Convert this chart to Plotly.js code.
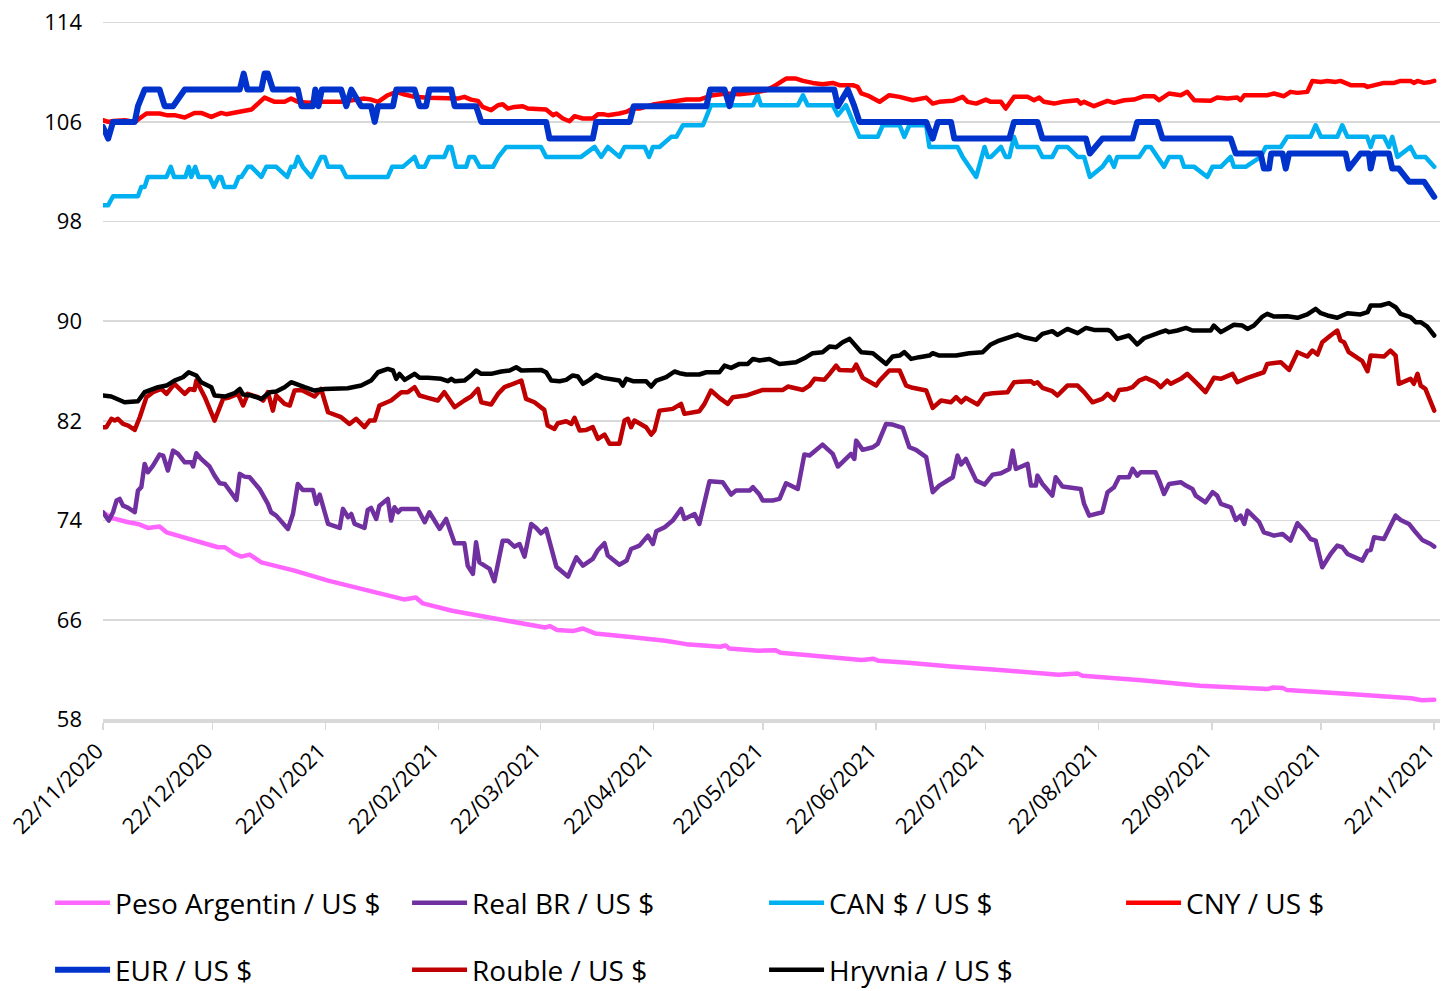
<!DOCTYPE html>
<html><head><meta charset="utf-8">
<script src="https://cdn.plot.ly/plotly-3.0.1.min.js"></script>
<style>
html,body{margin:0;padding:0;background:#fff;}
#chart{width:1443px;height:991px;}
.scatterlayer path.js-line{stroke-linejoin:round;stroke-linecap:round;}
</style></head><body><div id="chart"></div>
<script>
const tickDates = ['2020-11-22','2020-12-22','2021-01-22','2021-02-22','2021-03-22','2021-04-22','2021-05-22','2021-06-22','2021-07-22','2021-08-22','2021-09-22','2021-10-22','2021-11-22'];
const tickLabels = ['22/11/2020','22/12/2020','22/01/2021','22/02/2021','22/03/2021','22/04/2021','22/05/2021','22/06/2021','22/07/2021','22/08/2021','22/09/2021','22/10/2021','22/11/2021'];
const yTicks = [58,66,74,82,90,98,106,114];
const seriesNames = ['Peso Argentin / US $','Real BR / US $','CAN $ / US $','CNY / US $','EUR / US $','Rouble / US $','Hryvnia / US $'];

const pesoPoints = [[0,74.66],[2.3,74.21],[6.9,73.86],[9.6,73.72],[12.3,73.4],[15.5,73.51],[17.4,73.05],[23.8,72.52],[31.5,71.85],[33.4,71.85],[36.1,71.31],[37.9,71.1],[40.2,71.26],[43.4,70.64],[52.5,69.97],[61.7,69.17],[67.2,68.77],[73.1,68.28],[75.9,68.09],[82.5,67.66],[85.8,67.82],[87.7,67.34],[95.7,66.75],[103.3,66.32],[110.8,65.95],[121.2,65.41],[122.6,65.52],[124.5,65.2],[128.8,65.12],[131.6,65.33],[134.9,64.93],[143.9,64.66],[154.2,64.34],[159.9,64.07],[169.3,63.86],[170.7,63.97],[171.7,63.72],[179.7,63.54],[184.4,63.59],[185.8,63.38],[195.7,63.11],[201.4,63.0],[208.0,62.79],[211.3,62.89],[212.7,62.73],[220.7,62.57],[229.2,62.41],[232.5,62.28],[246.8,61.98],[262.0,61.61],[267.2,61.72],[268.6,61.53],[284.7,61.18],[300.8,60.73],[319.3,60.46],[320.8,60.59],[323.6,60.54],[324.6,60.38],[339.7,60.11],[351.1,59.84],[358.7,59.73],[361.6,59.57],[365,59.6]];

const realPoints = [[0,74.66],[1.6,73.99],[2.75,74.66],[3.7,75.6],[4.6,75.73],[5.5,75.19],[6.9,75.01],[8.7,74.66],[9.6,76.4],[10.5,76.67],[11.4,78.54],[12.3,77.87],[13.7,78.41],[15.5,79.29],[16.5,79.21],[17.8,78.01],[19.2,79.61],[20.6,79.34],[22.4,78.67],[24.2,78.67],[24.7,78.33],[25.6,79.4],[26.9,78.94],[29.2,78.33],[30.6,77.6],[32.0,76.99],[33.4,76.93],[35.2,76.13],[36.6,75.65],[37.5,77.74],[38.8,77.52],[40.2,77.47],[42.9,76.53],[45.2,75.33],[46.1,74.66],[47.5,74.39],[49.3,73.72],[50.7,73.32],[52.1,74.52],[53.4,76.93],[54.8,76.45],[57.6,76.45],[58.5,75.33],[59.4,76.08],[60.8,74.66],[61.7,73.72],[64.9,73.4],[65.8,74.93],[67.2,74.26],[68.1,74.52],[69.0,73.72],[71.7,73.4],[72.6,74.85],[73.5,75.01],[74.9,74.12],[75.8,75.19],[78.1,75.73],[79.0,73.99],[79.9,75.06],[80.9,74.66],[81.8,74.93],[86.3,74.93],[88.2,73.86],[89.5,74.66],[92.3,73.32],[94.1,74.12],[96.4,72.17],[99.1,72.17],[100.0,70.37],[101.4,69.71],[102.3,72.25],[103.2,70.64],[106.0,70.11],[107.3,69.12],[109.6,72.38],[111.0,72.38],[112.8,71.9],[114.2,72.11],[115.6,71.1],[117.4,73.72],[118.8,73.4],[120.1,72.97],[121.5,73.32],[122.9,71.85],[124.3,70.29],[126.1,69.84],[127.5,69.49],[128.4,70.11],[129.8,71.04],[131.6,70.37],[134.3,70.91],[135.7,71.63],[137.5,72.17],[138.4,71.18],[141.6,70.45],[143.6,70.78],[144.8,71.71],[147.1,71.98],[149.4,72.78],[150.8,72.11],[151.7,73.13],[154.0,73.45],[156.2,73.99],[158.5,74.93],[159.4,74.12],[162.2,74.52],[163.5,73.72],[166.3,77.15],[169.9,77.07],[172.2,76.08],[173.6,76.4],[177.3,76.4],[178.2,76.67],[180.0,76.08],[180.9,75.6],[183.6,75.6],[185.5,75.73],[187.3,76.99],[190.5,76.53],[192.3,79.29],[193.7,79.21],[197.3,80.09],[200.1,79.34],[201.5,78.33],[203.7,78.94],[205.1,79.34],[206.0,78.94],[206.5,80.41],[208.3,79.67],[211.1,79.88],[212.4,80.15],[214.7,81.75],[216.5,81.7],[219.3,81.43],[221.1,79.88],[222.9,79.67],[225.7,79.08],[227.5,76.27],[229.3,76.8],[233.0,77.47],[234.3,79.21],[235.3,78.49],[236.6,78.94],[239.4,77.2],[241.7,76.88],[243.9,77.68],[246.2,77.79],[248.5,78.14],[249.4,79.61],[250.3,78.14],[253.5,78.54],[254.4,76.8],[255.8,76.8],[256.2,77.6],[257.6,76.93],[260.3,76.0],[261.2,77.47],[263.1,76.72],[268.1,76.53],[269.0,75.33],[270.4,74.39],[274.0,74.66],[275.4,76.27],[277.2,76.67],[278.6,77.47],[281.3,77.47],[282.3,78.14],[283.6,77.6],[284.5,77.87],[288.6,77.87],[289.6,77.2],[290.9,76.13],[292.3,76.93],[295.5,77.07],[296.9,76.8],[298.7,76.53],[299.6,76.0],[302.3,75.46],[304.2,76.27],[305.5,76.0],[306.5,75.33],[309.2,75.06],[310.6,74.04],[311.9,74.39],[312.9,73.72],[313.8,74.79],[317.0,73.86],[318.3,73.05],[321.1,72.78],[323.4,72.92],[325.6,72.38],[327.5,73.78],[329.8,73.05],[331.1,72.51],[332.5,72.38],[334.3,70.24],[336.6,71.31],[338.4,71.98],[339.8,71.85],[341.2,71.31],[345.3,70.78],[346.7,71.58],[347.6,71.63],[348.5,72.65],[351.2,72.51],[352.6,73.32],[354.4,74.39],[355.8,74.04],[358.1,73.72],[359.9,73.05],[361.7,72.44],[364.0,72.11],[365,71.9]];

const canPoints = [[0,99.31],[1.4,99.31],[2.75,100.03],[9.6,100.03],[10.5,100.78],[11.4,100.78],[12.3,101.58],[17.4,101.58],[18.6,102.39],[19.5,101.58],[22.6,101.58],[23.5,102.39],[24.2,101.58],[25.3,102.39],[26.2,101.58],[29.2,101.58],[30.4,100.78],[31.7,101.58],[32.4,101.58],[33.3,100.78],[36.1,100.78],[37.2,101.58],[37.9,101.58],[39.7,102.39],[40.7,102.39],[43.4,101.58],[44.8,102.39],[47.5,102.39],[50.5,101.58],[51.6,102.39],[52.5,102.39],[53.4,103.19],[54.8,102.39],[57.1,101.58],[59.8,103.19],[60.8,103.19],[61.7,102.39],[65.3,102.39],[66.7,101.58],[78.1,101.58],[79.3,102.39],[82.2,102.39],[85.4,103.19],[86.5,102.39],[88.2,102.39],[89.5,103.19],[93.6,103.19],[94.7,103.99],[95.5,103.99],[96.8,102.39],[99.6,102.39],[100.4,103.19],[101.8,103.19],[103.3,102.39],[106.9,102.39],[108.4,103.19],[110.6,103.99],[120.1,103.99],[121.5,103.19],[131.1,103.19],[134.8,103.99],[136.6,103.19],[138.4,103.99],[141.6,103.19],[143.0,103.99],[148.5,103.99],[149.7,103.19],[150.8,103.99],[152.6,103.99],[155.8,104.8],[157.2,104.8],[159.0,105.73],[164.5,105.73],[166.7,107.34],[178.2,107.34],[179.5,108.14],[180.4,107.34],[190.5,107.34],[191.9,108.14],[193.2,107.34],[200.1,107.34],[201.5,106.54],[203.7,107.34],[207.4,104.8],[212.4,104.8],[213.8,105.73],[218.4,105.73],[219.7,104.8],[221.1,105.73],[225.7,105.73],[226.6,103.99],[234.3,103.99],[235.7,103.19],[239.4,101.58],[241.7,103.99],[242.6,103.19],[243.5,103.19],[246.2,103.99],[247.5,103.19],[248.5,103.19],[249.8,104.8],[250.7,103.99],[256.2,103.99],[257.6,103.19],[260.3,103.19],[261.7,103.99],[264.4,103.99],[267.2,103.19],[269.0,103.19],[270.6,101.58],[274.0,102.39],[275.9,103.19],[277.2,102.39],[278.1,103.19],[284.1,103.19],[285.9,103.99],[287.3,103.99],[290.9,102.39],[292.3,103.19],[295.5,103.19],[296.4,102.39],[299.2,102.39],[302.8,101.58],[304.2,102.39],[306.5,102.39],[309.2,103.19],[310.1,102.39],[313.3,102.39],[317.4,103.19],[318.8,103.99],[322.9,103.99],[324.7,104.8],[331.1,104.8],[332.5,105.73],[333.9,104.8],[338.4,104.8],[339.8,105.73],[341.2,104.8],[346.6,104.8],[347.6,103.99],[348.5,104.8],[351.2,104.8],[352.6,103.99],[353.5,104.8],[354.9,103.19],[358.5,103.99],[359.9,103.19],[362.6,103.19],[365,102.39]];

const cnyPoints = [[0,106.13],[1.4,106.0],[2.8,106.08],[6.0,106.13],[8.7,106.0],[10.1,106.27],[11.9,106.67],[15.5,106.67],[17.4,106.54],[19.6,106.54],[22.4,106.35],[25.1,106.72],[26.9,106.72],[29.7,106.4],[31.1,106.54],[32.4,106.72],[33.8,106.62],[36.5,106.75],[37.9,106.86],[40.7,106.99],[42.5,107.47],[44.3,107.95],[47.1,107.61],[49.8,107.61],[51.6,107.87],[53.5,107.61],[56.2,107.53],[59.8,107.61],[65.3,107.61],[69.0,107.79],[71.7,107.87],[73.5,107.79],[75.4,107.61],[78.1,108.14],[80.4,108.41],[82.7,108.2],[85.4,108.01],[89.1,107.93],[94.6,107.95],[97.3,107.87],[99.1,108.01],[100.9,107.79],[102.8,107.69],[104.1,107.2],[106.4,106.94],[108.3,107.34],[109.6,107.42],[111.0,107.07],[112.8,107.2],[115.1,107.26],[116.5,107.07],[119.2,107.07],[121.5,106.99],[123.4,106.54],[124.3,106.67],[126.1,106.27],[127.9,106.05],[129.3,106.46],[131.6,106.27],[134.3,106.27],[135.7,106.62],[137.1,106.62],[138.4,106.54],[141.6,106.67],[143.4,106.8],[145.3,107.07],[147.1,107.07],[150.8,107.39],[154.4,107.53],[158.1,107.69],[159.9,107.79],[163.5,107.79],[165.4,108.01],[167.2,108.14],[170.9,108.28],[174.5,108.22],[178.2,108.33],[181.8,108.54],[183.7,108.81],[185.5,109.13],[187.3,109.48],[190.0,109.48],[191.9,109.29],[194.6,109.13],[197.3,109.03],[200.1,109.13],[201.9,108.95],[205.6,108.95],[206.9,108.81],[207.9,108.28],[210.1,108.06],[212.9,107.61],[215.6,108.14],[218.4,108.01],[221.1,107.87],[222.0,107.74],[225.7,107.95],[227.5,107.47],[229.3,107.61],[233.0,107.69],[235.7,108.01],[237.1,107.61],[239.4,107.47],[242.1,107.79],[243.4,107.61],[246.2,107.61],[247.5,107.07],[249.8,108.01],[253.5,108.01],[255.3,107.74],[256.7,107.95],[258.0,107.61],[260.8,107.47],[263.1,107.61],[267.2,107.74],[268.1,107.47],[269.0,107.61],[271.7,107.26],[275.4,107.69],[277.2,107.53],[280.0,107.74],[282.7,107.79],[285.4,108.06],[288.2,108.06],[289.6,107.74],[292.3,108.28],[295.5,108.14],[297.3,108.41],[299.2,107.74],[303.7,107.69],[305.5,107.95],[308.3,107.87],[311.0,107.95],[311.9,107.74],[312.9,108.14],[319.2,108.14],[321.1,108.28],[323.8,108.06],[325.6,108.41],[327.5,108.33],[330.2,108.41],[331.6,109.29],[333.9,109.21],[335.7,109.29],[338.0,109.21],[339.3,109.29],[342.1,108.95],[345.7,108.95],[346.7,108.81],[349.4,109.03],[351.2,109.13],[354.0,109.13],[355.8,109.29],[358.5,109.29],[359.4,109.13],[360.4,109.29],[362.2,109.13],[364.0,109.21],[365,109.29]];

const eurPoints = [[0,105.6],[1.4,104.66],[2.75,106.0],[8.7,106.0],[9.6,107.26],[11.4,108.6],[15.5,108.6],[16.9,107.26],[19.2,107.26],[22.4,108.6],[37.5,108.6],[38.6,109.88],[39.6,108.6],[43.4,108.6],[44.3,109.88],[45.2,109.88],[46.6,108.6],[53.4,108.6],[54.4,107.26],[57.6,107.26],[58.2,108.6],[59.1,107.26],[60.0,108.6],[65.3,108.6],[66.7,107.26],[68.1,108.6],[70.8,107.26],[73.5,107.26],[74.5,106.0],[75.4,107.26],[79.5,107.26],[80.4,108.6],[85.4,108.6],[86.8,107.26],[88.6,107.26],[89.5,108.6],[95.5,108.6],[96.4,107.26],[102.3,107.26],[103.7,106.0],[121.5,106.0],[122.4,104.66],[134.3,104.66],[135.2,106.0],[144.4,106.0],[145.5,107.26],[165.4,107.26],[166.5,108.6],[170.4,108.6],[171.8,107.26],[173.1,108.6],[200.5,108.6],[201.5,107.26],[204.2,108.6],[206.0,107.26],[207.4,106.0],[225.7,106.0],[227.5,104.66],[228.9,106.0],[232.5,106.0],[233.4,104.66],[248.5,104.66],[249.8,106.0],[256.2,106.0],[257.6,104.66],[269.5,104.66],[270.6,103.46],[274.0,104.66],[282.3,104.66],[283.6,106.0],[289.1,106.0],[290.5,104.66],[309.2,104.66],[310.6,103.46],[317.4,103.46],[318.3,102.25],[319.7,102.25],[320.3,103.46],[323.4,103.46],[324.3,102.25],[325.2,103.46],[340.7,103.46],[341.6,102.25],[344.8,103.46],[347.1,103.46],[347.6,102.25],[348.5,103.46],[352.6,103.46],[353.5,102.25],[355.3,102.25],[358.1,101.2],[362.2,101.2],[365,99.98]];

const roublePoints = [[0,81.49],[0.9,81.49],[2.3,82.16],[3.2,82.02],[4.1,82.16],[5.5,81.75],[6.9,81.62],[8.7,81.27],[10.1,82.29],[11.9,83.9],[13.7,84.3],[16.0,84.56],[17.4,84.16],[19.6,84.97],[22.4,84.16],[23.8,84.56],[25.1,84.48],[25.6,85.23],[27.9,83.9],[30.6,82.02],[32.9,83.76],[34.3,83.84],[37.0,84.16],[38.4,83.23],[39.7,84.16],[42.5,83.9],[43.9,83.63],[45.2,84.3],[46.6,82.82],[47.5,84.03],[49.8,83.36],[51.2,83.23],[52.5,84.43],[54.4,84.48],[56.2,84.22],[58.0,83.95],[59.8,84.56],[61.7,82.69],[65.3,82.29],[67.6,81.75],[69.4,82.16],[71.7,81.49],[73.1,82.02],[74.5,82.02],[75.8,83.23],[79.0,83.63],[81.8,84.3],[83.6,84.3],[85.4,84.7],[86.8,84.03],[89.1,83.84],[91.8,83.63],[93.6,84.3],[96.4,83.09],[99.1,83.63],[100.9,83.95],[102.8,84.56],[103.7,83.49],[106.4,83.31],[108.3,84.16],[110.1,84.7],[113.7,85.1],[114.7,85.23],[116.0,83.76],[118.3,83.49],[121.0,82.88],[121.9,81.62],[123.8,81.35],[124.7,81.81],[127.0,81.97],[128.4,81.75],[129.3,82.24],[130.7,81.22],[132.5,81.27],[134.3,81.49],[135.7,80.55],[137.5,80.9],[138.9,80.15],[141.6,80.15],[143.0,82.02],[143.9,82.16],[144.8,81.49],[145.7,82.02],[148.9,81.49],[150.3,80.9],[151.2,81.22],[152.6,82.82],[156.2,82.96],[158.5,83.36],[159.4,82.56],[163.5,82.77],[164.9,83.36],[166.7,84.43],[169.0,83.84],[171.3,83.36],[172.7,83.9],[176.3,84.03],[179.1,84.3],[180.9,84.48],[186.4,84.48],[187.8,84.75],[191.9,84.48],[193.7,84.83],[195.1,85.37],[197.8,85.29],[199.2,85.77],[201.0,86.44],[201.9,86.09],[205.6,86.04],[206.5,86.52],[208.3,85.45],[212.0,84.83],[212.9,85.23],[215.6,86.04],[218.4,86.04],[220.2,84.83],[222.0,84.65],[225.7,84.43],[227.5,83.04],[229.8,83.63],[232.5,83.49],[233.9,83.9],[235.3,83.49],[236.6,83.84],[239.8,83.31],[241.7,84.11],[243.9,84.22],[248.0,84.3],[249.8,85.1],[254.4,85.18],[255.3,84.97],[256.2,85.1],[257.6,84.65],[260.3,84.38],[261.7,84.03],[264.4,84.83],[267.2,84.83],[269.0,84.3],[271.3,83.49],[274.0,83.76],[275.4,84.16],[277.2,83.68],[278.6,84.48],[280.9,84.56],[282.3,84.7],[284.1,85.23],[285.9,85.45],[288.6,85.1],[290.0,84.7],[291.8,85.23],[292.8,84.97],[295.5,85.37],[297.3,85.77],[300.1,84.97],[302.3,84.3],[304.6,85.45],[306.5,85.37],[309.7,85.77],[311.0,85.1],[313.8,85.45],[316.5,85.77],[318.3,85.9],[319.2,86.57],[322.9,86.71],[325.2,86.09],[327.5,87.51],[330.2,87.16],[331.6,87.64],[333.0,87.32],[334.3,88.31],[336.6,88.85],[338.4,89.25],[339.3,88.45],[340.3,88.31],[341.6,87.51],[345.3,86.79],[346.7,85.98],[347.6,87.24],[351.2,87.16],[353.0,87.64],[354.4,87.24],[355.3,84.97],[358.5,85.37],[359.4,84.97],[360.4,85.77],[361.3,84.83],[362.6,84.56],[365,82.82]];

const hryvniaPoints = [[0,84.03],[2.3,83.95],[5.9,83.49],[9.6,83.57],[11.4,84.3],[15.1,84.7],[17.4,84.83],[19.6,85.23],[21.9,85.5],[23.5,85.9],[25.6,85.64],[26.9,85.1],[29.7,84.7],[30.6,84.03],[33.4,83.95],[36.1,84.22],[37.5,84.56],[38.4,84.11],[40.7,84.03],[43.4,83.76],[45.7,84.3],[47.5,84.35],[49.8,84.7],[51.6,85.1],[55.3,84.7],[58.0,84.43],[60.8,84.56],[64.4,84.62],[67.1,84.62],[70.8,84.83],[73.5,85.23],[75.4,85.9],[78.1,86.17],[79.5,86.04],[80.4,85.37],[81.3,85.77],[82.7,85.29],[85.4,85.77],[86.8,85.45],[89.1,85.45],[92.7,85.37],[94.6,85.18],[95.5,85.37],[96.4,85.18],[99.1,85.23],[100.9,85.64],[102.3,86.04],[103.7,85.77],[106.4,85.77],[109.2,85.96],[111.5,86.04],[113.3,86.3],[114.7,86.04],[120.1,86.09],[121.5,85.9],[122.9,85.23],[125.2,85.18],[127.0,85.29],[128.8,85.64],[130.2,85.56],[131.6,84.97],[133.4,85.29],[135.2,85.69],[137.1,85.45],[141.6,85.23],[142.5,84.83],[143.5,85.37],[145.3,85.18],[148.9,85.18],[150.3,84.75],[151.7,85.23],[154.4,85.5],[156.7,85.96],[158.1,85.82],[159.9,85.72],[163.5,85.72],[165.4,85.9],[169.0,85.9],[170.4,86.44],[172.2,86.25],[174.5,86.57],[176.8,86.57],[178.2,86.97],[180.0,86.84],[182.7,86.97],[185.5,86.57],[190.0,86.71],[192.8,87.11],[194.6,87.43],[197.3,87.51],[199.2,87.97],[201.0,87.91],[202.8,88.31],[204.7,88.58],[206.0,88.18],[207.9,87.51],[211.1,87.43],[214.7,86.57],[216.5,87.16],[218.4,87.24],[219.7,87.51],[221.6,86.97],[223.8,87.11],[226.6,87.24],[227.5,87.43],[229.3,87.24],[233.9,87.24],[237.5,87.43],[241.2,87.51],[243.4,88.13],[245.3,88.39],[248.0,88.63],[250.7,88.93],[252.6,88.71],[255.8,88.5],[257.6,88.98],[260.3,89.2],[261.7,88.9],[264.4,89.38],[267.2,89.04],[269.5,89.46],[271.7,89.3],[275.4,89.3],[276.3,89.2],[278.1,88.58],[281.3,88.85],[283.6,88.13],[285.4,88.63],[288.2,88.98],[290.0,89.12],[291.4,89.25],[292.3,89.12],[294.6,89.25],[296.9,89.46],[298.7,89.25],[303.7,89.25],[304.6,89.65],[306.5,89.12],[310.1,89.71],[312.4,89.65],[313.8,89.38],[315.6,89.65],[317.9,90.37],[319.2,90.59],[321.1,90.37],[324.7,90.4],[327.5,90.27],[330.2,90.54],[332.5,90.99],[333.9,90.64],[335.7,90.46],[338.4,90.27],[341.2,90.64],[343.0,90.59],[344.8,90.54],[346.7,90.72],[347.6,91.26],[350.3,91.26],[352.6,91.45],[354.4,91.12],[355.8,90.59],[358.5,90.32],[359.9,89.92],[361.3,89.92],[363.1,89.57],[365,88.85]];

const t0 = Date.UTC(2020, 10, 22);
function toDate(d) {
  const dt = new Date(t0 + Math.round(d * 24) * 3600000);
  const p = n => String(n).padStart(2, '0');
  return dt.getUTCFullYear() + '-' + p(dt.getUTCMonth() + 1) + '-' + p(dt.getUTCDate()) + ' ' + p(dt.getUTCHours()) + ':00';
}

const allSeries = [pesoPoints, realPoints, canPoints, cnyPoints, eurPoints, roublePoints, hryvniaPoints];
const styles = [
  {color: '#FF66FF', width: 4.5},
  {color: '#7030A0', width: 4.5},
  {color: '#00B0F0', width: 4.5},
  {color: '#FF0000', width: 4.5},
  {color: '#0033CC', width: 6},
  {color: '#C00000', width: 4.5},
  {color: '#000000', width: 4.5}
];
// the last entry of each legend row is kept narrow so the row is not pushed left
const lastInRow = {3: 170, 6: 200};

const traces = allSeries.map((pts, i) => {
  const t = {
    type: 'scatter', mode: 'lines',
    name: seriesNames[i],
    x: pts.map(p => toDate(p[0])),
    y: pts.map(p => p[1]),
    line: {color: styles[i].color, width: styles[i].width},
    legend: i < 4 ? 'legend' : 'legend2',
    hoverinfo: 'skip'
  };
  if (lastInRow[i]) t.legendwidth = lastInRow[i];
  return t;
});

const legendCommon = {
  orientation: 'h', xanchor: 'left', yanchor: 'middle', x: -0.0396,
  itemwidth: 55, entrywidth: 287, entrywidthmode: 'pixels',
  font: {family: 'Open Sans, sans-serif', size: 28, color: '#000'},
  bgcolor: 'rgba(0,0,0,0)', borderwidth: 0, traceorder: 'normal'
};

const layout = {
  width: 1443, height: 991,
  margin: {l: 103, r: 3, t: 21, b: 270, pad: 0, autoexpand: false},
  paper_bgcolor: '#fff', plot_bgcolor: '#fff',
  font: {family: 'Open Sans, sans-serif', color: '#000'},
  showlegend: true,
  xaxis: {
    type: 'date',
    range: [toDate(0), toDate(366.6)],
    tickmode: 'array', tickvals: tickDates, ticktext: tickLabels,
    tickangle: -45,
    tickfont: {size: 22, color: '#000'},
    ticklabeloverflow: 'allow',
    ticklabelshift: -6,
    showgrid: false, zeroline: false,
    showline: true, linecolor: '#d9d9d9', linewidth: 1.5,
    ticks: 'outside', ticklen: 7, tickcolor: '#d9d9d9', tickwidth: 1.5
  },
  yaxis: {
    range: [57.9, 114.1], tickmode: 'array', tickvals: yTicks,
    tickfont: {size: 22, color: '#000'},
    showgrid: true, gridcolor: '#d9d9d9', gridwidth: 1.5,
    zeroline: false, showline: false, ticks: '',
    ticklabelstandoff: 20
  },
  legend: Object.assign({}, legendCommon, {y: -0.26}),
  legend2: Object.assign({}, legendCommon, {y: -0.3557})
};

Plotly.newPlot('chart', traces, layout, {displayModeBar: false, staticPlot: true});
</script></body></html>
